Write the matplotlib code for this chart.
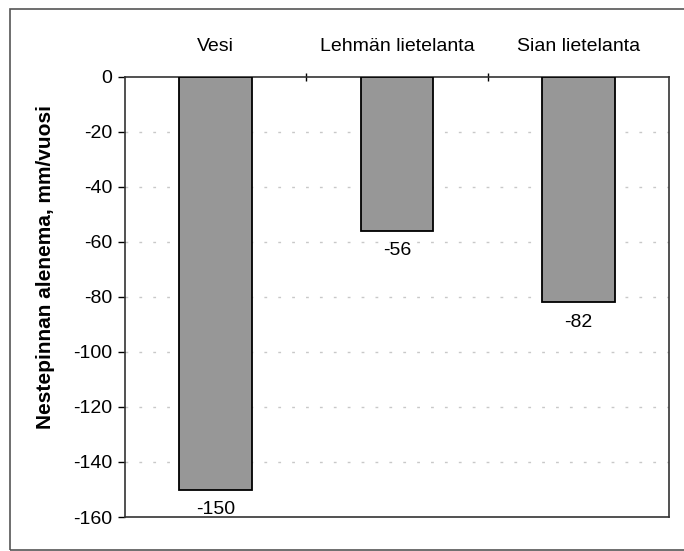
import numpy as np
import matplotlib
matplotlib.use("Agg")
import matplotlib.pyplot as plt
from matplotlib.patches import Rectangle

# nesteen pinnan alenema eri nesteillä
categories = ["Vesi", "Lehmän lietelanta", "Sian lietelanta"]
values = [-150, -56, -82]
y_ticks = [0, -20, -40, -60, -80, -100, -120, -140, -160]

plt.rcParams['font.family'] = ['Liberation Sans', 'DejaVu Sans']

fig = plt.figure(figsize=(6.84, 5.51), dpi=100)
ax = fig.add_axes([0.1827, 0.0617, 0.7953, 0.7986])

# kehys koko kuvan ympärille
fig.patches.append(Rectangle((10 / 684, 0.002), 1.2, 1 - 9 / 551 - 0.002,
                             transform=fig.transFigure, fill=False,
                             edgecolor='#555555', linewidth=1.2))

x = np.arange(len(categories))
ax.bar(x, values, width=0.4, color='#979797', edgecolor='black', linewidth=1.3, zorder=3)

for xi, v in zip(x, values):
    ax.annotate(str(v), (xi, v), xytext=(0, -8), textcoords='offset points',
                ha='center', va='top', fontsize=14)

ax.set_xlim(-0.5, len(categories) - 0.5)
ax.set_ylim(-160, 0)
ax.set_yticks(y_ticks)
ax.set_yticklabels([str(t) for t in y_ticks], fontsize=14)

# luokkien nimet yläreunaan, jakoviivat luokkien väliin
ax.xaxis.tick_top()
ax.set_xticks(x[:-1] + 0.5)
ax.set_xticklabels([])
ax.set_xticks(x, minor=True)
ax.set_xticklabels(categories, minor=True, fontsize=14)
ax.tick_params(axis='x', which='major', direction='inout', length=6, width=1)
ax.tick_params(axis='x', which='minor', length=0, pad=16)
ax.tick_params(axis='y', direction='out', length=5, width=1, pad=4)

for y in y_ticks[1:-1]:
    ax.axhline(y, color='#c8c8c8', linestyle=(0, (2, 8)), linewidth=1, zorder=1)

for s in ax.spines.values():
    s.set_linewidth(1.2)
    s.set_color('#333333')

ax.set_ylabel("Nestepinnan alenema, mm/vuosi", fontsize=15, fontweight='bold', va='center')
ax.yaxis.set_label_coords(-0.147, 0.568)

fig.savefig("out.png", dpi=100)
